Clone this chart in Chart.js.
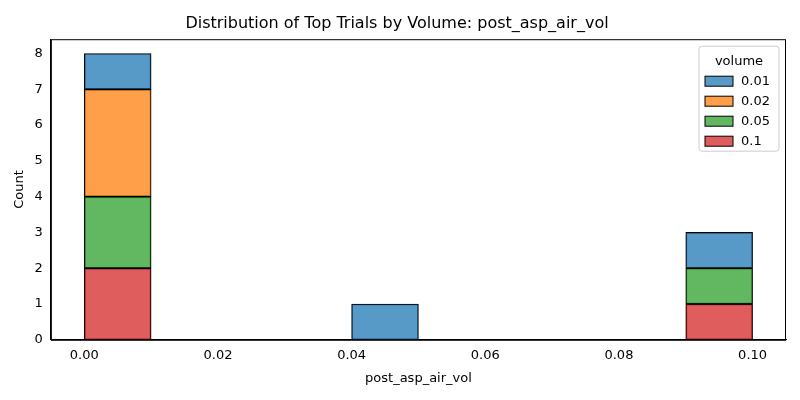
<!DOCTYPE html>
<html>
<head>
<script src="https://cdn.jsdelivr.net/npm/chart.js@4"></script>
<style>body{margin:0;background:#fff}#wrap{width:800px;height:400px}</style>
</head>
<body>
<div id="wrap"><canvas id="chart"></canvas></div>
<script>
// bin centres (bin width 0.01)
const binCenters = [0.005, 0.015, 0.025, 0.035, 0.045, 0.055, 0.065, 0.075, 0.085, 0.095];
const volumes = ['0.01', '0.02', '0.05', '0.1'];
const count_001 = [1, 0, 0, 0, 1, 0, 0, 0, 0, 1];
const count_002 = [3, 0, 0, 0, 0, 0, 0, 0, 0, 0];
const count_005 = [2, 0, 0, 0, 0, 0, 0, 0, 0, 1];
const count_01  = [2, 0, 0, 0, 0, 0, 0, 0, 0, 1];
const xTicks = [0, 0.02, 0.04, 0.06, 0.08, 0.10];
const colors = ['rgba(31,119,180,0.75)', 'rgba(255,127,14,0.75)', 'rgba(44,160,44,0.75)', 'rgba(214,39,40,0.75)'];

function pts(arr) { return arr.map((v, i) => ({ x: binCenters[i], y: v })); }

// legend drawn inside the plot, top right, plus the full frame
const boxLegend = {
    id: 'boxLegend',
    afterDraw(chart) {
        const ctx = chart.ctx, a = chart.chartArea;
        ctx.save();
        ctx.strokeStyle = '#000'; ctx.lineWidth = 1;
        ctx.strokeRect(a.left + 0.5, a.top + 0.5, a.right - a.left - 1, a.bottom - a.top);
        const w = 80, h = 105, x = a.right - w - 7, y = a.top + 7;
        ctx.fillStyle = 'rgba(255,255,255,0.8)';
        ctx.strokeStyle = '#ccc';
        ctx.beginPath(); ctx.roundRect(x, y, w, h, 3); ctx.fill(); ctx.stroke();
        ctx.fillStyle = '#000';
        ctx.font = '13px "DejaVu Sans"';
        ctx.textAlign = 'center'; ctx.textBaseline = 'middle';
        ctx.fillText('volume', x + w / 2, y + 15);
        ctx.textAlign = 'left';
        volumes.forEach((v, i) => {
            const yy = y + 35 + i * 20;
            ctx.fillStyle = colors[i];
            ctx.fillRect(x + 6, yy - 5, 28, 10);
            ctx.strokeStyle = '#000';
            ctx.strokeRect(x + 6, yy - 5, 28, 10);
            ctx.fillStyle = '#000';
            ctx.fillText(v, x + 42, yy);
        });
        ctx.restore();
    }
};

const stackOrder = [count_01, count_005, count_002, count_001];
const stackIdx = [3, 2, 1, 0];
new Chart(document.getElementById('chart'), {
    type: 'bar',
    data: {
        datasets: stackOrder.map((arr, k) => ({
            label: volumes[stackIdx[k]],
            data: pts(arr),
            backgroundColor: colors[stackIdx[k]],
            borderColor: '#000',
            borderWidth: 1,
            borderSkipped: false,
            barPercentage: 1,
            categoryPercentage: 1
        }))
    },
    options: {
        responsive: true,
        maintainAspectRatio: false,
        animation: false,
        layout: { padding: { left: 8, right: 14, top: 4, bottom: 10 } },
        plugins: {
            legend: { display: false },
            tooltip: { enabled: false },
            title: {
                display: true,
                text: 'Distribution of Top Trials by Volume: post_asp_air_vol',
                color: '#000',
                font: { family: 'DejaVu Sans', size: 16, weight: 'normal' },
                padding: { top: 10, bottom: 6 }
            }
        },
        scales: {
            x: {
                type: 'linear',
                stacked: true,
                offset: false,
                min: -0.005, max: 0.105,
                afterBuildTicks: s => { s.ticks = xTicks.map(v => ({ value: v })); },
                ticks: { color: '#000', font: { family: 'DejaVu Sans', size: 13 }, callback: v => v.toFixed(2), maxRotation: 0 },
                grid: { display: false, drawTicks: true, tickLength: 5, tickColor: '#000' },
                border: { color: '#000' },
                title: { display: true, text: 'post_asp_air_vol', color: '#000', font: { family: 'DejaVu Sans', size: 13 } }
            },
            y: {
                stacked: true,
                min: 0, max: 8.4,
                afterBuildTicks: s => { s.ticks = [0,1,2,3,4,5,6,7,8].map(v => ({ value: v })); },
                ticks: { color: '#000', font: { family: 'DejaVu Sans', size: 13 } },
                grid: { display: false, drawTicks: true, tickLength: 5, tickColor: '#000' },
                border: { color: '#000' },
                title: { display: true, text: 'Count', color: '#000', font: { family: 'DejaVu Sans', size: 13 } }
            }
        }
    },
    plugins: [boxLegend]
});
</script>
</body>
</html>
